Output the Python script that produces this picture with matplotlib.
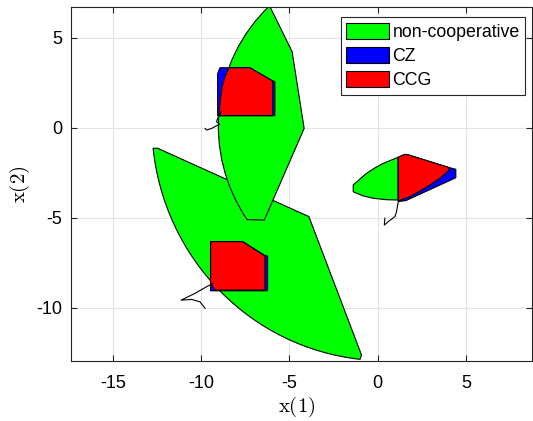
import matplotlib
matplotlib.use("Agg")
import matplotlib.pyplot as plt
from matplotlib.patches import Polygon, Patch, PathPatch
from matplotlib.path import Path
from matplotlib.transforms import Affine2D

plt.rcParams['font.family'] = ['Liberation Sans', 'DejaVu Sans']
plt.rcParams['mathtext.fontset'] = 'cm'
plt.rcParams['axes.unicode_minus'] = False

# non-cooperative sets: a circular arc (center, radius, start/end angle in deg)
# followed by the straight edges
nc_big_arc = (0.41, 0.26, 13.2, 186.1, 263.9)
nc_big_x = [-0.91, -3.89, -12.46]
nc_big_y = [-12.63, -4.94, -1.14]

nc_top_arc = (0.10, 0.10, 9.12, 133.0, 214.8)
nc_top_x = [-6.42, -4.16, -4.84]
nc_top_y = [-5.13, -0.04, 4.22]

nc_right_x = [-1.38, -1.00, -0.62, -0.15, 0.32, 1.17, 1.17, 0.50, -0.25, -0.85, -1.38]
nc_right_y = [-3.18, -2.85, -2.53, -2.23, -1.98, -1.64, -4.02, -4.00, -3.92, -3.78, -3.56]

# CZ sets
cz_top_x = [-8.93, -7.23, -5.95, -5.82, -5.82, -9.06, -9.06]
cz_top_y = [3.33, 3.33, 2.60, 2.56, 0.67, 0.67, 3.00]

cz_low_x = [-9.46, -7.64, -6.38, -6.23, -6.23, -9.46]
cz_low_y = [-6.33, -6.33, -7.10, -7.13, -9.06, -9.06]

cz_right_x = [1.17, 1.55, 1.77, 4.00, 4.43, 4.43, 1.60, 1.17]
cz_right_y = [-1.64, -1.48, -1.52, -2.20, -2.31, -2.78, -4.05, -4.10]

# CCG sets
ccg_top_x = [-8.40, -7.23, -5.95, -5.95, -8.97, -8.92, -8.80, -8.62]
ccg_top_y = [3.33, 3.33, 2.60, 0.67, 0.67, 1.40, 2.30, 2.90]

ccg_low_x = [-9.46, -7.64, -6.38, -6.38, -9.21, -9.46]
ccg_low_y = [-6.33, -6.33, -7.13, -9.02, -9.02, -8.64]

ccg_right_x = [1.17, 1.55, 1.77, 4.00, 4.06, 3.55, 2.96, 2.40, 1.83, 1.17]
ccg_right_y = [-1.64, -1.48, -1.52, -2.20, -2.35, -2.80, -3.18, -3.52, -3.83, -4.06]

# trajectories
traj_top_x = [-8.83, -9.05, -9.12, -8.95, -9.40, -9.68, -9.77]
traj_top_y = [0.89, 0.55, 0.33, 0.20, -0.04, -0.13, -0.04]

traj_low_x = [-9.31, -9.68, -10.34, -11.13, -10.53, -10.06, -9.77]
traj_low_y = [-8.64, -8.83, -9.20, -9.58, -9.54, -9.67, -10.03]

traj_right_x = [1.17, 1.07, 0.98, 0.60, 0.38, 0.41]
traj_right_y = [-4.11, -4.67, -4.94, -5.22, -5.41, -5.03]

labels = ['non-cooperative', 'CZ', 'CCG']
colors = ['#00ff00', '#0000ff', '#ff0000']

fig = plt.figure(figsize=(5.33, 4.21), dpi=100)
ax = fig.add_axes([0.133, 0.1425, 0.865, 0.8415])


def add_poly(xs, ys, color):
    p = Polygon(list(zip(xs, ys)), closed=True, facecolor=color,
                edgecolor='black', linewidth=0.8, zorder=2)
    ax.add_patch(p)


def add_arc_shape(arc, xs, ys, color):
    cx, cy, r, t1, t2 = arc
    a = Path.arc(t1, t2).transformed(Affine2D().scale(r).translate(cx, cy))
    verts = list(a.vertices) + list(zip(xs, ys)) + [a.vertices[0]]
    codes = list(a.codes) + [Path.LINETO] * len(xs) + [Path.CLOSEPOLY]
    ax.add_patch(PathPatch(Path(verts, codes), facecolor=color,
                           edgecolor='black', linewidth=0.8, zorder=2))


add_arc_shape(nc_big_arc, nc_big_x, nc_big_y, colors[0])
add_arc_shape(nc_top_arc, nc_top_x, nc_top_y, colors[0])
add_poly(nc_right_x, nc_right_y, colors[0])
add_poly(cz_top_x, cz_top_y, colors[1])
add_poly(cz_low_x, cz_low_y, colors[1])
add_poly(cz_right_x, cz_right_y, colors[1])
add_poly(ccg_top_x, ccg_top_y, colors[2])
add_poly(ccg_low_x, ccg_low_y, colors[2])
add_poly(ccg_right_x, ccg_right_y, colors[2])

for tx, ty in [(traj_top_x, traj_top_y), (traj_low_x, traj_low_y), (traj_right_x, traj_right_y)]:
    ax.plot(tx, ty, color='black', linewidth=0.8, zorder=3)

ax.set_xlim(-17.37, 8.74)
ax.set_ylim(-12.96, 6.72)
ax.set_xticks([-15, -10, -5, 0, 5])
ax.set_yticks([-10, -5, 0, 5])
ax.grid(True, color='#e3e3e3', linewidth=0.8)
ax.set_axisbelow(True)
ax.tick_params(direction='in', top=True, right=True, labelsize=13, length=4, color='#262626')
ax.tick_params(axis='x', pad=10)
ax.tick_params(axis='y', pad=6)
for s in ax.spines.values():
    s.set_color('#262626')
    s.set_linewidth(0.8)

ax.set_xlabel(r'$\mathrm{x}(1)$', fontsize=15)
ax.set_ylabel(r'$\mathrm{x}(2)$', fontsize=15, labelpad=3)
ax.xaxis.set_label_coords(0.49, -0.097)

handles = [Patch(facecolor=c, edgecolor='black', linewidth=0.8) for c in colors]
leg = ax.legend(handles, labels, loc='upper right', fontsize=12.8, fancybox=False,
                edgecolor='#262626', framealpha=1, handlelength=2.4, handleheight=1.0,
                handletextpad=0.2, borderpad=0.3, labelspacing=0.35, borderaxespad=0,
                bbox_to_anchor=(0.985, 0.970))
leg.get_frame().set_linewidth(0.8)

fig.savefig('out.png', dpi=100)
